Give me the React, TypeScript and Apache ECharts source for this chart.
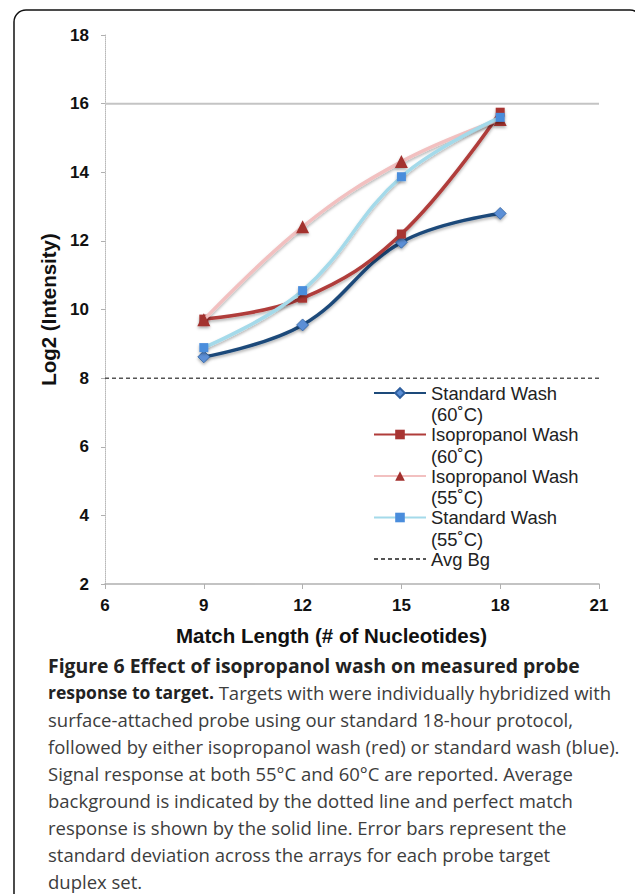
import React, { useEffect, useRef } from "react";
import * as echarts from "echarts";

const matchLengths = [9, 12, 15, 18];
const stdWash60 = [8.62, 9.55, 11.96, 12.8];
const isoWash60 = [9.72, 10.33, 12.2, 15.75];
const isoWash55 = [9.7, 12.41, 14.31, 15.54];
const stdWash55 = [8.89, 10.55, 13.87, 15.6];
const xRange = [6, 21];
const avgBgLevel = 8;
const perfectMatchLevel = 16;
const yRange = [2, 18];

const seriesNames = [
  "Standard Wash\n(60˚C)",
  "Isopropanol Wash\n(60˚C)",
  "Isopropanol Wash\n(55˚C)",
  "Standard Wash\n(55˚C)",
  "Avg Bg",
];

const captionBold1 = "Figure 6 Effect of isopropanol wash on measured probe";
const captionBold2 = "response to target.";
const captionLines = [
  " Targets with were individually hybridized with",
  "surface-attached probe using our standard 18-hour protocol,",
  "followed by either isopropanol wash (red) or standard wash (blue).",
  "Signal response at both 55°C and 60°C are reported. Average",
  "background is indicated by the dotted line and perfect match",
  "response is shown by the solid line. Error bars represent the",
  "standard deviation across the arrays for each probe target",
  "duplex set.",
];

const pair = (xs: number[], ys: number[]) => xs.map((x, i) => [x, ys[i]]);

export default function App() {
  const ref = useRef<HTMLDivElement>(null);
  useEffect(() => {
    if (!ref.current) return;
    const chart = echarts.init(ref.current, null, { renderer: "svg" });
    const shadow = {
      shadowColor: "rgba(0,0,0,0.3)",
      shadowBlur: 3,
      shadowOffsetY: 2,
    };
    const L = 21.5;
    const sans = '"Liberation Sans", Arial, sans-serif';
    const capFont = '"Open Sans", sans-serif';
    const capTop = 665;
    const capStep = 27;
    const capSize = 18.5;
    const graphics: any[] = [
      {
        type: "rect",
        shape: { x: 14, y: 10, width: 628, height: 940, r: 12 },
        style: { fill: "none", stroke: "#111", lineWidth: 1.5 },
        silent: true,
      },
      {
        type: "text",
        x: 48,
        y: capTop,
        style: {
          text: captionBold1,
          font: `bold 19.4px ${capFont}`,
          fill: "#222",
          verticalAlign: "middle",
        },
      },
      {
        type: "text",
        x: 48,
        y: capTop + capStep,
        style: {
          text: `{b|${captionBold2}}{n|${captionLines[0]}}`,
          verticalAlign: "middle",
          rich: {
            b: { font: `bold 17.5px ${capFont}`, fill: "#222" },
            n: { font: `${capSize}px ${capFont}`, fill: "#3d3d3d" },
          },
        },
      },
    ];
    captionLines.slice(1).forEach((t, i) => {
      graphics.push({
        type: "text",
        x: 48,
        y: capTop + capStep * (i + 2),
        style: {
          text: t,
          font: `${capSize}px ${capFont}`,
          fill: "#3d3d3d",
          verticalAlign: "middle",
        },
      });
    });

    const lastName = seriesNames[seriesNames.length - 1];

    chart.setOption({
      animation: false,
      backgroundColor: "#fff",
      grid: { left: 105, right: 36, top: 35, bottom: 310 },
      legend: {
        orient: "vertical",
        left: 373,
        top: 393 - 1.5 * L,
        padding: 0,
        itemWidth: 52,
        itemHeight: 12,
        itemGap: 41.5 - 3 * L,
        formatter: (n: string) => (n === lastName ? `\n${n}\n ` : `\n${n}`),
        textStyle: {
          fontSize: 18.4,
          fontFamily: sans,
          color: "#222",
          lineHeight: L,
        },
        data: seriesNames.map((n) =>
          n === lastName
            ? { name: n, itemStyle: { color: "rgba(0,0,0,0)", borderWidth: 0, opacity: 0 } }
            : { name: n }
        ),
      },
      xAxis: {
        type: "value",
        min: xRange[0],
        max: xRange[1],
        interval: 3,
        name: "Match Length (# of Nucleotides)",
        nameLocation: "middle",
        nameGap: 41,
        nameTextStyle: {
          fontSize: 20.5,
          fontWeight: "bold",
          color: "#111",
          fontFamily: sans,
          padding: [0, 41, 0, 0],
        },
        axisLine: { lineStyle: { color: "#b0b0b0", width: 1.5 } },
        axisTick: { show: true, length: 5, lineStyle: { color: "#b0b0b0" } },
        axisLabel: {
          margin: 13,
          fontSize: 17,
          fontWeight: "bold",
          color: "#111",
          fontFamily: sans,
        },
        splitLine: { show: false },
      },
      yAxis: {
        type: "value",
        min: yRange[0],
        max: yRange[1],
        interval: 2,
        name: "Log2 (Intensity)",
        nameLocation: "middle",
        nameGap: 44,
        nameTextStyle: {
          fontSize: 20.5,
          fontWeight: "bold",
          color: "#111",
          fontFamily: sans,
        },
        axisLine: {
          show: true,
          lineStyle: { color: "#b8b8b8", width: 1, type: [1, 1] },
        },
        axisTick: { show: true, length: 4, lineStyle: { color: "#b0b0b0" } },
        axisLabel: {
          margin: 16,
          fontSize: 17,
          fontWeight: "bold",
          color: "#111",
          fontFamily: sans,
        },
        splitLine: { show: false },
      },
      series: [
        {
          name: "Perfect Match",
          type: "line",
          data: pair(xRange, [perfectMatchLevel, perfectMatchLevel]),
          symbol: "none",
          lineStyle: { color: "#c4c4c4", width: 2 },
          z: 1,
        },
        {
          name: seriesNames[0],
          type: "line",
          data: pair(matchLengths, stdWash60),
          smooth: 0.4,
          symbol: "diamond",
          symbolSize: 12,
          lineStyle: { color: "#1d4a7a", width: 3.5, ...shadow },
          itemStyle: {
            color: "#5b8fd6",
            borderColor: "#2f5f9e",
            borderWidth: 0.8,
            ...shadow,
          },
          z: 3,
        },
        {
          name: seriesNames[1],
          type: "line",
          data: pair(matchLengths, isoWash60),
          smooth: 0.4,
          symbol: "rect",
          symbolSize: 9,
          lineStyle: { color: "#b03c3a", width: 3.5, ...shadow },
          itemStyle: { color: "#a83432", ...shadow },
          z: 4,
        },
        {
          name: seriesNames[2],
          type: "line",
          data: pair(matchLengths, isoWash55),
          smooth: 0.4,
          symbol: "triangle",
          symbolSize: 13,
          lineStyle: { color: "#f2c0c0", width: 3.5, ...shadow },
          itemStyle: { color: "#a3302e", ...shadow },
          z: 5,
        },
        {
          name: seriesNames[3],
          type: "line",
          data: pair(matchLengths, stdWash55),
          smooth: 0.4,
          symbol: "rect",
          symbolSize: 9,
          lineStyle: { color: "#a4daea", width: 3.5, ...shadow },
          itemStyle: { color: "#4a8ddc", ...shadow },
          z: 6,
        },
        {
          name: seriesNames[4],
          type: "line",
          data: pair(xRange, [avgBgLevel, avgBgLevel]),
          symbol: "none",
          lineStyle: { color: "#555", width: 1.5, type: [4, 3] },
          itemStyle: { color: "#555" },
          z: 2,
        },
      ],
      graphic: graphics,
    });
    return () => chart.dispose();
  }, []);
  return (
    <div
      ref={ref}
      style={{ position: "fixed", left: 0, top: 0, width: 635, height: 894 }}
    />
  );
}
